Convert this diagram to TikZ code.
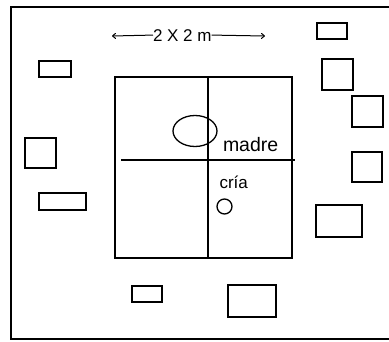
\documentclass[tikz,border=0pt]{standalone}
\usepackage{fontspec}
\setmainfont{Liberation Sans}
\usetikzlibrary{arrows.meta,shapes.geometric}
\begin{document}
\begin{tikzpicture}[x=1pt,y=-1pt,
  frame/.style={line width=1.3pt},
  box/.style={draw, line width=1.4pt, inner sep=0pt, outer sep=0pt, anchor=north west},
  divider/.style={line width=1.2pt},
  arr/.style={line width=1pt, -{To[length=4pt,width=6pt]}},
  lbl/.style={inner sep=0pt, outer sep=0pt, anchor=base west}]
\useasboundingbox (0,0) rectangle (389,341);
% outer frame (open on the right)
\draw[frame] (389,7) -- (11,7) -- (11,339) -- (389,339);
% enclosure
\node[box, minimum width=177pt, minimum height=181pt] (sq) at (115,77) {};
\draw[divider] (208,77) -- (208,258);
\draw[divider] (121,160) -- (295,160);
% mother and calf
\node[draw, ellipse, line width=1.3pt, inner sep=0pt, minimum width=44pt, minimum height=31pt] (madreE) at (195,131) {};
\node[draw, circle, line width=1.3pt, inner sep=0pt, minimum size=15pt] (criaC) at (224.5,206.5) {};
\node[lbl, font=\fontsize{19.5}{19.5}\selectfont] (madre) at (223,151) {madre};
\node[lbl, font=\fontsize{17}{17}\selectfont] (cria) at (219.5,188) {cría};
% dimension label
\node[lbl, font=\fontsize{17}{17}\selectfont] (dim) at (153,41) {2 X 2 m};
\coordinate (la) at (112,36);
\coordinate (ra) at (265,36);
\draw[arr] (dim.west) -- (la);
\draw[arr] (dim.east) -- (ra);
% surrounding boxes
\node[box, minimum width=32pt, minimum height=16pt] (r1) at (39,61) {};
\node[box, minimum width=31pt, minimum height=30pt] (r2) at (25,138) {};
\node[box, minimum width=47pt, minimum height=17pt] (r3) at (39,193) {};
\node[box, minimum width=30pt, minimum height=16pt] (r4) at (132,286) {};
\node[box, minimum width=48pt, minimum height=32pt] (r5) at (228,285) {};
\node[box, minimum width=46pt, minimum height=32pt] (r6) at (316,205) {};
\node[box, minimum width=30pt, minimum height=30pt] (r7) at (352,152) {};
\node[box, minimum width=31pt, minimum height=31pt] (r8) at (352,96) {};
\node[box, minimum width=31pt, minimum height=31pt] (r9) at (322,59) {};
\node[box, minimum width=30pt, minimum height=16pt] (r10) at (317,23) {};
\end{tikzpicture}
\end{document}
